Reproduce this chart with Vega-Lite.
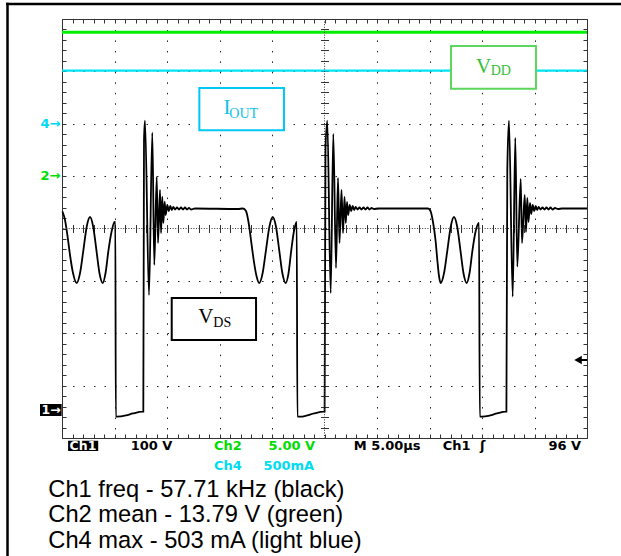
{
  "$schema": "https://vega.github.io/schema/vega-lite/v6.json",
  "width": 525,
  "height": 419,
  "autosize": {"type": "none"},
  "padding": {"left": 62, "top": 19, "right": 34, "bottom": 118},
  "background": "#ffffff",
  "config": {
    "view": {"stroke": "#333333", "strokeWidth": 1},
    "axis": {"labels": false, "domain": false, "ticks": false, "grid": false, "tickColor": "#333333", "tickWidth": 1, "gridColor": "#222222", "gridWidth": 1}
  },
  "datasets": {
    "ch1": [
      {"t":0.048,"d":0.325},{"t":0.286,"d":0.162},{"t":0.524,"d":-0.143},{"t":0.762,"d":-0.506},{"t":1.048,"d":-0.85},{"t":1.4,"d":-1.041},{"t":1.714,"d":-0.855},{"t":2.038,"d":-0.411},{"t":2.352,"d":0.034},{"t":2.667,"d":0.22},{"t":2.971,"d":0.034},{"t":3.276,"d":-0.411},{"t":3.571,"d":-0.855},{"t":3.876,"d":-1.041},{"t":4.143,"d":-0.855},{"t":4.429,"d":-0.411},{"t":4.714,"d":-0.067},{"t":5.01,"d":0.124},{"t":5.08,"d":0.124},{"t":5.124,"d":-3.593},
      {"t":5.238,"d":-3.593},{"t":6.095,"d":-3.57},{"t":6.762,"d":-3.532},{"t":7.667,"d":-3.498},{"t":7.743,"d":-3.498},{"t":7.81,"d":1.69},{"t":7.905,"d":2.058},{"t":8.286,"d":-1.27},{"t":8.6,"d":1.829},{"t":8.79,"d":-0.697},{"t":9.019,"d":0.983},{"t":9.143,"d":-0.277},{"t":9.333,"d":0.735},{"t":9.429,"d":-0.086},{"t":9.552,"d":0.607},{"t":9.648,"d":0.105},{"t":9.781,"d":0.512},{"t":9.876,"d":0.258},{"t":10.029,"d":0.449},{"t":10.171,"d":0.334},{"t":10.314,"d":0.43},{"t":10.457,"d":0.353},{"t":10.6,"d":0.411},{"t":10.762,"d":0.363},{"t":10.952,"d":0.401},{"t":11.143,"d":0.363},{"t":11.333,"d":0.401},{"t":11.524,"d":0.363},{"t":11.714,"d":0.401},{"t":11.905,"d":0.363},{"t":12.095,"d":0.391},{"t":12.286,"d":0.363},{"t":12.667,"d":0.382},{"t":16.762,"d":0.372},{"t":17.238,"d":0.382},{"t":17.524,"d":0.334},{"t":17.762,"d":0.124},{"t":18.0,"d":-0.22},{"t":18.286,"d":-0.64},{"t":18.524,"d":-0.907},{"t":18.79,"d":-1.041},{"t":19.105,"d":-0.855},{"t":19.429,"d":-0.411},{"t":19.752,"d":0.034},{"t":20.067,"d":0.22},{"t":20.381,"d":0.034},{"t":20.686,"d":-0.411},{"t":20.99,"d":-0.855},{"t":21.305,"d":-1.041},{"t":21.571,"d":-0.855},{"t":21.838,"d":-0.411},{"t":22.095,"d":-0.048},{"t":22.352,"d":0.124},{"t":22.419,"d":-3.593},
      {"t":22.667,"d":-3.593},{"t":23.333,"d":-3.57},{"t":24.0,"d":-3.532},{"t":24.933,"d":-3.498},{"t":25.01,"d":-3.498},{"t":25.095,"d":1.499},{"t":25.267,"d":2.058},{"t":25.59,"d":-1.232},{"t":25.838,"d":1.804},{"t":26.095,"d":-0.754},{"t":26.286,"d":0.964},{"t":26.429,"d":-0.277},{"t":26.619,"d":0.735},{"t":26.762,"d":-0.086},{"t":26.905,"d":0.601},{"t":27.029,"d":0.105},{"t":27.143,"d":0.506},{"t":27.257,"d":0.258},{"t":27.4,"d":0.449},{"t":27.543,"d":0.334},{"t":27.686,"d":0.43},{"t":27.829,"d":0.353},{"t":27.971,"d":0.411},{"t":28.143,"d":0.363},{"t":28.333,"d":0.401},{"t":28.524,"d":0.363},{"t":28.714,"d":0.401},{"t":28.905,"d":0.363},{"t":29.095,"d":0.401},{"t":29.286,"d":0.363},{"t":29.476,"d":0.391},{"t":29.714,"d":0.372},{"t":30.095,"d":0.382},{"t":34.476,"d":0.382},{"t":34.857,"d":0.382},{"t":35.095,"d":0.334},{"t":35.333,"d":0.124},{"t":35.571,"d":-0.22},{"t":35.762,"d":-0.64},{"t":35.905,"d":-0.907},{"t":36.067,"d":-1.041},{"t":36.381,"d":-0.855},{"t":36.705,"d":-0.411},{"t":37.019,"d":0.034},{"t":37.333,"d":0.22},{"t":37.638,"d":0.034},{"t":37.943,"d":-0.411},{"t":38.238,"d":-0.855},{"t":38.543,"d":-1.041},{"t":38.81,"d":-0.855},{"t":39.095,"d":-0.411},{"t":39.4,"d":-0.048},{"t":39.714,"d":0.105},{"t":39.79,"d":-3.593},
      {"t":40.0,"d":-3.593},{"t":40.762,"d":-3.57},{"t":41.429,"d":-3.532},{"t":42.248,"d":-3.498},{"t":42.324,"d":-3.498},{"t":42.41,"d":1.117},{"t":42.571,"d":2.058},{"t":42.924,"d":-1.302},{"t":43.171,"d":1.728},{"t":43.362,"d":-0.729},{"t":43.686,"d":0.945},{"t":43.81,"d":-0.277},{"t":44.067,"d":0.64},{"t":44.19,"d":-0.067},{"t":44.314,"d":0.582},{"t":44.429,"d":0.124},{"t":44.571,"d":0.487},{"t":44.686,"d":0.277},{"t":44.829,"d":0.449},{"t":44.971,"d":0.334},{"t":45.114,"d":0.43},{"t":45.257,"d":0.353},{"t":45.4,"d":0.411},{"t":45.571,"d":0.363},{"t":45.762,"d":0.401},{"t":45.952,"d":0.363},{"t":46.143,"d":0.401},{"t":46.333,"d":0.363},{"t":46.524,"d":0.401},{"t":46.714,"d":0.363},{"t":46.952,"d":0.391},{"t":47.238,"d":0.372},{"t":47.619,"d":0.382},{"t":50.0,"d":0.382}
    ],
    "ch2": [{"t":0,"d":3.746},{"t":50,"d":3.746}],
    "ch4": [{"t":0,"d":3.013},{"t":50,"d":3.013}],
    "boxes": [
      {"channel":"Ch2","t1":37.05,"t2":45.14,"d1":3.485,"d2":2.669},
      {"channel":"Ch4","t1":13.08,"t2":21.14,"d1":2.683,"d2":1.875},
      {"channel":"Ch1","t1":10.45,"t2":18.48,"d1":-1.327,"d2":-2.129}
    ],
    "labels_big": [
      {"label":"V","t":39.43,"d":2.963,"channel":"Ch2"},
      {"label":"I","t":15.38,"d":2.18,"channel":"Ch4"},
      {"label":"V","t":12.98,"d":-1.81,"channel":"Ch1"}
    ],
    "labels_sub": [
      {"label":"DD","t":40.83,"d":2.925,"channel":"Ch2"},
      {"label":"OUT","t":15.93,"d":2.11,"channel":"Ch4"},
      {"label":"DS","t":14.41,"d":-1.886,"channel":"Ch1"}
    ],
    "markers": [
      {"label":"4→","t":-0.143,"d":2.0,"channel":"Ch4"},
      {"label":"2→","t":-0.143,"d":1.0,"channel":"Ch2"}
    ],
    "status": [
      {"label":"100 V","t":6.543,"d":-4.229,"channel":"Ch1"},
      {"label":"Ch2","t":14.467,"d":-4.229,"channel":"Ch2"},
      {"label":"5.00 V","t":19.667,"d":-4.229,"channel":"Ch2"},
      {"label":"Ch4","t":14.467,"d":-4.611,"channel":"Ch4"},
      {"label":"500mA","t":19.181,"d":-4.611,"channel":"Ch4"},
      {"label":"M 5.00µs","t":27.781,"d":-4.229,"channel":"Ch1"},
      {"label":"Ch1","t":36.267,"d":-4.229,"channel":"Ch1"},
      {"label":"ʃ","t":39.81,"d":-4.229,"channel":"Ch1"},
      {"label":"96 V","t":46.333,"d":-4.229,"channel":"Ch1"}
    ],
    "inverse_boxes": [
      {"label":"1→","t1":-2.095,"t2":-0.03,"d1":-3.351,"d2":-3.58,"tl":-1.95,"dl":-3.465},
      {"label":"Ch1","t1":0.581,"t2":3.448,"d1":-4.052,"d2":-4.248,"tl":0.72,"dl":-4.15}
    ],
    "trigger": [{"t":49.15,"d":-2.511,"t2":50.0}],
    "captions": [
      {"label":"Ch1 freq - 57.71 kHz (black)","t":-1.305,"d":-5.117},
      {"label":"Ch2 mean - 13.79 V (green)","t":-1.305,"d":-5.608},
      {"label":"Ch4 max - 503 mA (light blue)","t":-1.305,"d":-6.099}
    ],
    "frame": [
      {"t1":-5.333,"t2":53.238,"d1":4.286,"d2":4.286},
      {"t1":-5.19,"t2":-5.19,"d1":4.31,"d2":-6.253}
    ]
  },
  "layer": [
    {
      "data": {"name": "ch1"},
      "mark": {"type": "line", "color": "#000000", "strokeWidth": 1.8, "interpolate": "monotone"},
      "encoding": {
        "x": {"field": "t", "type": "quantitative", "scale": {"domain": [0, 50], "nice": false, "zero": false},
              "axis": {"title": null, "orient": "bottom", "values": [5,10,15,20,30,35,40,45], "grid": true, "gridDash": [1.5, 8.975]}},
        "y": {"field": "d", "type": "quantitative", "scale": {"domain": [-4, 4], "nice": false, "zero": false},
              "axis": {"title": null, "orient": "left", "values": [-3,-2,-1,1,2,3], "grid": true, "gridDash": [1.5, 9.0]}}
      }
    },
    {
      "data": {"name": "ch2"},
      "mark": {"type": "line", "color": "#00ee00", "strokeWidth": 3},
      "encoding": {
        "x": {"field": "t", "type": "quantitative", "scale": {"domain": [0, 50], "nice": false, "zero": false},
              "axis": {"title": null, "orient": "top", "offset": -4, "ticks": true, "tickSize": 4, "values": [0,1,2,3,4,5,6,7,8,9,10,11,12,13,14,15,16,17,18,19,20,21,22,23,24,25,26,27,28,29,30,31,32,33,34,35,36,37,38,39,40,41,42,43,44,45,46,47,48,49,50]}},
        "y": {"field": "d", "type": "quantitative", "scale": {"domain": [-4, 4], "nice": false, "zero": false},
              "axis": {"title": null, "orient": "left", "offset": -4, "ticks": true, "tickSize": 4, "values": [-4,-3.8,-3.6,-3.4,-3.2,-3,-2.8,-2.6,-2.4,-2.2,-2,-1.8,-1.6,-1.4,-1.2,-1,-0.8,-0.6,-0.4,-0.2,0,0.2,0.4,0.6,0.8,1,1.2,1.4,1.6,1.8,2,2.2,2.4,2.6,2.8,3,3.2,3.4,3.6,3.8,4]}}
      }
    },
    {
      "data": {"name": "ch4"},
      "mark": {"type": "line", "color": "#00e4f4", "strokeWidth": 2.2},
      "encoding": {
        "x": {"field": "t", "type": "quantitative", "scale": {"domain": [0, 50], "nice": false, "zero": false},
              "axis": {"title": null, "orient": "bottom", "offset": -4, "ticks": true, "tickSize": 4, "values": [0,1,2,3,4,5,6,7,8,9,10,11,12,13,14,15,16,17,18,19,20,21,22,23,24,25,26,27,28,29,30,31,32,33,34,35,36,37,38,39,40,41,42,43,44,45,46,47,48,49,50]}},
        "y": {"field": "d", "type": "quantitative", "scale": {"domain": [-4, 4], "nice": false, "zero": false},
              "axis": {"title": null, "orient": "right", "offset": -4, "ticks": true, "tickSize": 4, "values": [-4,-3.8,-3.6,-3.4,-3.2,-3,-2.8,-2.6,-2.4,-2.2,-2,-1.8,-1.6,-1.4,-1.2,-1,-0.8,-0.6,-0.4,-0.2,0,0.2,0.4,0.6,0.8,1,1.2,1.4,1.6,1.8,2,2.2,2.4,2.6,2.8,3,3.2,3.4,3.6,3.8,4]}}
      }
    },
    {
      "data": {"values": [{"t": 25}]},
      "mark": {"type": "rule", "color": "#333333", "strokeWidth": 1, "strokeDash": [1, 1.6]},
      "encoding": {
        "x": {"field": "t", "type": "quantitative", "scale": {"domain": [0, 50], "nice": false, "zero": false},
              "axis": {"title": null, "orient": "bottom", "offset": -213.5, "ticks": true, "tickSize": 8, "values": [0,1,2,3,4,5,6,7,8,9,10,11,12,13,14,15,16,17,18,19,20,21,22,23,24,25,26,27,28,29,30,31,32,33,34,35,36,37,38,39,40,41,42,43,44,45,46,47,48,49,50]}}
      }
    },
    {
      "data": {"values": [{"d": 0}]},
      "mark": {"type": "rule", "color": "#333333", "strokeWidth": 1, "strokeDash": [1, 1.6]},
      "encoding": {
        "y": {"field": "d", "type": "quantitative", "scale": {"domain": [-4, 4], "nice": false, "zero": false},
              "axis": {"title": null, "orient": "left", "offset": -266.5, "ticks": true, "tickSize": 8, "values": [-4,-3.8,-3.6,-3.4,-3.2,-3,-2.8,-2.6,-2.4,-2.2,-2,-1.8,-1.6,-1.4,-1.2,-1,-0.8,-0.6,-0.4,-0.2,0,0.2,0.4,0.6,0.8,1,1.2,1.4,1.6,1.8,2,2.2,2.4,2.6,2.8,3,3.2,3.4,3.6,3.8,4]}}
      }
    },
    {
      "data": {"name": "boxes"},
      "mark": {"type": "rect", "fill": "#ffffff", "strokeWidth": 2},
      "encoding": {
        "x": {"field": "t1", "type": "quantitative", "axis": null},
        "x2": {"field": "t2"},
        "y": {"field": "d1", "type": "quantitative", "axis": null},
        "y2": {"field": "d2"},
        "stroke": {"field": "channel", "type": "nominal", "legend": null,
                   "scale": {"domain": ["Ch1", "Ch2", "Ch4"], "range": ["#000000", "#5cd65c", "#00c8f5"]}}
      }
    },
    {
      "data": {"name": "labels_big"},
      "mark": {"type": "text", "font": "Liberation Serif", "fontSize": 21, "align": "left", "baseline": "alphabetic"},
      "encoding": {
        "x": {"field": "t", "type": "quantitative", "axis": null},
        "y": {"field": "d", "type": "quantitative", "axis": null},
        "text": {"field": "label"},
        "color": {"field": "channel", "type": "nominal", "legend": null,
                  "scale": {"domain": ["Ch1", "Ch2", "Ch4"], "range": ["#000000", "#35c035", "#10bfea"]}}
      }
    },
    {
      "data": {"name": "labels_sub"},
      "mark": {"type": "text", "font": "Liberation Serif", "fontSize": 14, "align": "left", "baseline": "alphabetic"},
      "encoding": {
        "x": {"field": "t", "type": "quantitative", "axis": null},
        "y": {"field": "d", "type": "quantitative", "axis": null},
        "text": {"field": "label"},
        "color": {"field": "channel", "type": "nominal", "legend": null,
                  "scale": {"domain": ["Ch1", "Ch2", "Ch4"], "range": ["#000000", "#35c035", "#10bfea"]}}
      }
    },
    {
      "data": {"name": "markers"},
      "mark": {"type": "text", "font": "DejaVu Sans", "fontWeight": "bold", "fontSize": 13, "align": "right", "baseline": "middle"},
      "encoding": {
        "x": {"field": "t", "type": "quantitative", "axis": null},
        "y": {"field": "d", "type": "quantitative", "axis": null},
        "text": {"field": "label"},
        "color": {"field": "channel", "type": "nominal", "legend": null,
                  "scale": {"domain": ["Ch2", "Ch4"], "range": ["#00e000", "#00d8f4"]}}
      }
    },
    {
      "data": {"name": "inverse_boxes"},
      "mark": {"type": "rect", "color": "#000000"},
      "encoding": {
        "x": {"field": "t1", "type": "quantitative", "axis": null},
        "x2": {"field": "t2"},
        "y": {"field": "d1", "type": "quantitative", "axis": null},
        "y2": {"field": "d2"}
      }
    },
    {
      "data": {"name": "inverse_boxes"},
      "mark": {"type": "text", "font": "DejaVu Sans", "fontWeight": "bold", "fontSize": 12.5, "align": "left", "baseline": "middle", "color": "#ffffff"},
      "encoding": {
        "x": {"field": "tl", "type": "quantitative", "axis": null},
        "y": {"field": "dl", "type": "quantitative", "axis": null},
        "text": {"field": "label"}
      }
    },
    {
      "data": {"name": "trigger"},
      "mark": {"type": "rule", "color": "#000000", "strokeWidth": 2},
      "encoding": {
        "x": {"field": "t", "type": "quantitative", "axis": null},
        "x2": {"field": "t2"},
        "y": {"field": "d", "type": "quantitative", "axis": null}
      }
    },
    {
      "data": {"name": "trigger"},
      "mark": {"type": "point", "shape": "triangle-left", "filled": true, "color": "#000000", "size": 75, "opacity": 1},
      "encoding": {
        "x": {"field": "t", "type": "quantitative", "axis": null},
        "y": {"field": "d", "type": "quantitative", "axis": null}
      }
    },
    {
      "data": {"name": "status"},
      "mark": {"type": "text", "font": "DejaVu Sans", "fontWeight": "bold", "fontSize": 13, "align": "left", "baseline": "alphabetic"},
      "encoding": {
        "x": {"field": "t", "type": "quantitative", "axis": null},
        "y": {"field": "d", "type": "quantitative", "axis": null},
        "text": {"field": "label"},
        "color": {"field": "channel", "type": "nominal", "legend": null,
                  "scale": {"domain": ["Ch1", "Ch2", "Ch4"], "range": ["#000000", "#00dd00", "#00dcf0"]}}
      }
    },
    {
      "data": {"name": "captions"},
      "mark": {"type": "text", "font": "Liberation Sans", "fontSize": 23.7, "align": "left", "baseline": "alphabetic", "color": "#000000"},
      "encoding": {
        "x": {"field": "t", "type": "quantitative", "axis": null},
        "y": {"field": "d", "type": "quantitative", "axis": null},
        "text": {"field": "label"}
      }
    },
    {
      "data": {"name": "frame"},
      "mark": {"type": "rule", "color": "#000000", "strokeWidth": 2.5},
      "encoding": {
        "x": {"field": "t1", "type": "quantitative", "axis": null},
        "x2": {"field": "t2"},
        "y": {"field": "d1", "type": "quantitative", "axis": null},
        "y2": {"field": "d2"}
      }
    }
  ],
  "resolve": {
    "axis": {"x": "independent", "y": "independent"},
    "scale": {"color": "independent", "stroke": "independent"}
  }
}
